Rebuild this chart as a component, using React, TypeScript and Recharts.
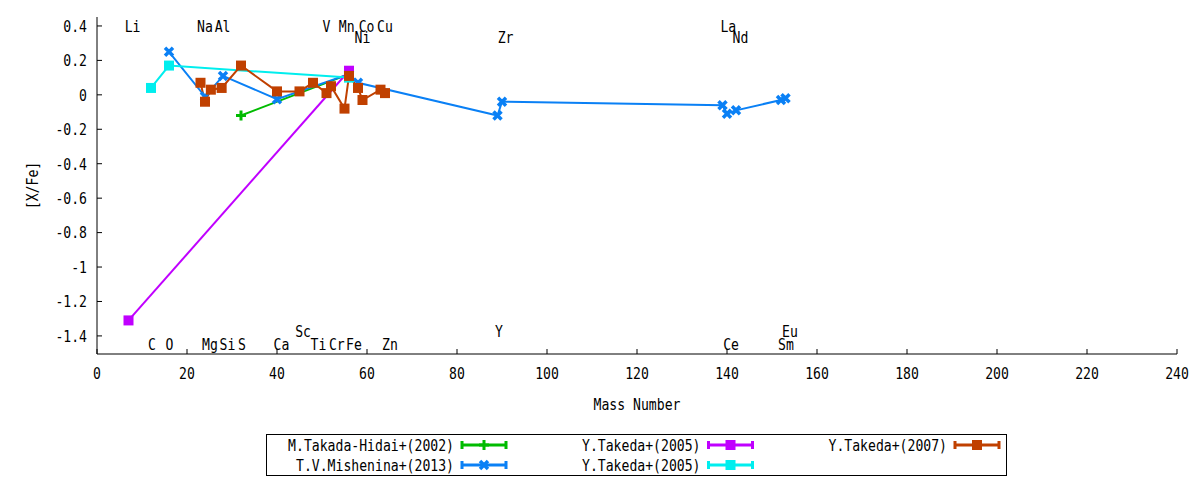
import React from "react";
import { ComposedChart, Legend, Line, Scatter, XAxis, YAxis } from "recharts";

const FONT = "DejaVu Sans Mono";
const CHAR_W = 7.9;

// x: mass number, y: [X/Fe]
const takadaHidai2002 = [
  { x: 32, y: -0.12 },
  { x: 56, y: 0.12 },
];

const mishenina2013 = [
  { x: 16, y: 0.25 },
  { x: 24, y: -0.01 },
  { x: 28, y: 0.11 },
  { x: 40, y: -0.025 },
  { x: 56, y: 0.12 },
  { x: 58, y: 0.07 },
  { x: 89, y: -0.12 },
  { x: 90, y: -0.04 },
  { x: 139, y: -0.06 },
  { x: 140, y: -0.11 },
  { x: 142, y: -0.09 },
  { x: 152, y: -0.03 },
  { x: 153, y: -0.02 },
];

const takeda2005a = [
  { x: 7, y: -1.31 },
  { x: 56, y: 0.14 },
];

const takeda2005b = [
  { x: 12, y: 0.04 },
  { x: 16, y: 0.17 },
  { x: 56, y: 0.1 },
];

const takeda2007 = [
  { x: 23, y: 0.07 },
  { x: 24, y: -0.04 },
  { x: 25.3, y: 0.03 },
  { x: 27.7, y: 0.04 },
  { x: 32, y: 0.17 },
  { x: 40, y: 0.02 },
  { x: 45, y: 0.02 },
  { x: 48, y: 0.07 },
  { x: 51, y: 0.01 },
  { x: 52, y: 0.05 },
  { x: 55, y: -0.08 },
  { x: 56, y: 0.11 },
  { x: 58, y: 0.04 },
  { x: 59, y: -0.03 },
  { x: 63, y: 0.03 },
  { x: 64, y: 0.01 },
];

// element names placed along the top and bottom of the plot
const elementLabels = [
  { name: "Li", x: 7.9, y: 0.4 },
  { name: "Na", x: 24, y: 0.4 },
  { name: "Al", x: 27.9, y: 0.4 },
  { name: "V", x: 51, y: 0.4 },
  { name: "Mn", x: 55.5, y: 0.4 },
  { name: "Co", x: 59.9, y: 0.4 },
  { name: "Cu", x: 64, y: 0.4 },
  { name: "La", x: 140.3, y: 0.4 },
  { name: "Ni", x: 59, y: 0.335 },
  { name: "Zr", x: 90.8, y: 0.335 },
  { name: "Nd", x: 143, y: 0.335 },
  { name: "Sc", x: 45.8, y: -1.37 },
  { name: "Y", x: 89.3, y: -1.37 },
  { name: "Eu", x: 154, y: -1.37 },
  { name: "C", x: 12.2, y: -1.45 },
  { name: "O", x: 16.1, y: -1.45 },
  { name: "Mg", x: 25.1, y: -1.45 },
  { name: "Si", x: 29, y: -1.45 },
  { name: "S", x: 32.2, y: -1.45 },
  { name: "Ca", x: 41, y: -1.45 },
  { name: "Ti", x: 49.2, y: -1.45 },
  { name: "Cr", x: 53.3, y: -1.45 },
  { name: "Fe", x: 57.1, y: -1.45 },
  { name: "Zn", x: 65.1, y: -1.45 },
  { name: "Ce", x: 140.9, y: -1.45 },
  { name: "Sm", x: 153.1, y: -1.45 },
];

const X_TICKS = [0, 20, 40, 60, 80, 100, 120, 140, 160, 180, 200, 220, 240];
const Y_TICKS = [0.4, 0.2, 0, -0.2, -0.4, -0.6, -0.8, -1, -1.2, -1.4];

type Shape = "plus" | "cross" | "square";

const SERIES: { id: string; name: string; color: string; shape: Shape; data: { x: number; y: number }[] }[] = [
  { id: "th02", name: "M.Takada-Hidai+(2002)", color: "#00bb00", shape: "plus", data: takadaHidai2002 },
  { id: "mi13", name: "T.V.Mishenina+(2013)", color: "#0a80f5", shape: "cross", data: mishenina2013 },
  { id: "ta05a", name: "Y.Takeda+(2005)", color: "#c000ff", shape: "square", data: takeda2005a },
  { id: "ta05b", name: "Y.Takeda+(2005)", color: "#00eeee", shape: "square", data: takeda2005b },
  { id: "ta07", name: "Y.Takeda+(2007)", color: "#c04000", shape: "square", data: takeda2007 },
];

function MonoText({
  x,
  y,
  text,
  anchor = "middle",
  rotate = false,
}: {
  x: number;
  y: number;
  text: string;
  anchor?: "start" | "middle" | "end";
  rotate?: boolean;
}) {
  return (
    <text
      x={x}
      y={y}
      dy={5.8}
      fontFamily={FONT}
      fontSize={16}
      fill="#000"
      textAnchor={anchor}
      textLength={text.length * CHAR_W}
      lengthAdjust="spacingAndGlyphs"
      transform={rotate ? `rotate(-90 ${x} ${y})` : undefined}
    >
      {text}
    </text>
  );
}

function Marker({ cx, cy, shape, color }: { cx?: number; cy?: number; shape: Shape; color: string }) {
  if (cx == null || cy == null) return null;
  if (shape === "plus") {
    return <path d={`M${cx - 5},${cy}H${cx + 5}M${cx},${cy - 5}V${cy + 5}`} stroke={color} strokeWidth={3} fill="none" />;
  }
  if (shape === "cross") {
    return (
      <path
        d={`M${cx - 4},${cy - 4}L${cx + 4},${cy + 4}M${cx - 4},${cy + 4}L${cx + 4},${cy - 4}`}
        stroke={color}
        strokeWidth={3.5}
        fill="none"
      />
    );
  }
  return <rect x={cx - 5} y={cy - 5} width={10} height={10} fill={color} />;
}

const fmtY = (v: number) => String(parseFloat(v.toFixed(1)));

function XTick(props: any) {
  return <MonoText x={props.x} y={props.y} text={String(props.payload.value)} />;
}

function YTick(props: any) {
  return <MonoText x={props.x} y={props.y} text={fmtY(props.payload.value)} anchor="end" />;
}

function LegendBox() {
  return (
    <svg width={741} height={42} style={{ display: "block" }}>
      <rect x={0.5} y={0.5} width={740} height={41} fill="#fff" stroke="#000" />
      {SERIES.map((s, i) => {
        const col = Math.floor(i / 2);
        const row = i % 2;
        const right = 188 + col * 246.5;
        const cy = 11 + row * 20;
        const x0 = right + 8;
        const x1 = x0 + 44;
        return (
          <g key={s.id}>
            <MonoText x={right} y={cy} text={s.name} anchor="end" />
            <path
              d={`M${x0},${cy}H${x1}M${x0},${cy - 4}V${cy + 4}M${x1},${cy - 4}V${cy + 4}`}
              stroke={s.color}
              strokeWidth={3}
              fill="none"
            />
            <Marker cx={(x0 + x1) / 2} cy={cy} shape={s.shape} color={s.color} />
          </g>
        );
      })}
    </svg>
  );
}

const Y_DOMAIN: [number, number] = [-1.505, 0.452];

export default function App() {
  return (
    <div style={{ position: "absolute", left: 0, top: 0, width: 1200, height: 480, background: "#fff" }}>
      <ComposedChart width={1200} height={480} margin={{ top: 17, right: 23, bottom: 0, left: 0 }}>
        <XAxis
          dataKey="x"
          type="number"
          domain={[0, 240]}
          ticks={X_TICKS}
          interval={0}
          allowDataOverflow
          height={126}
          stroke="#000"
          tickSize={-5}
          tickMargin={24}
          tick={<XTick />}
          label={{
            content: ({ viewBox }: any) => (
              <MonoText x={viewBox.x + viewBox.width / 2} y={viewBox.y + 50} text="Mass Number" />
            ),
          }}
        />
        <XAxis
          xAxisId="top"
          orientation="top"
          type="number"
          domain={[0, 240]}
          ticks={X_TICKS}
          interval={0}
          allowDataOverflow
          height={0}
          stroke="#000"
          tickSize={-5}
          tick={false}
        />
        <YAxis
          type="number"
          domain={Y_DOMAIN}
          ticks={Y_TICKS}
          interval={0}
          allowDataOverflow
          width={97}
          stroke="#000"
          tickSize={-5}
          tickMargin={15}
          tick={<YTick />}
          label={{
            content: ({ viewBox }: any) => (
              <MonoText x={viewBox.x + 32} y={viewBox.y + viewBox.height / 2} text="[X/Fe]" rotate />
            ),
          }}
        />
        <YAxis
          yAxisId="right"
          orientation="right"
          type="number"
          domain={Y_DOMAIN}
          ticks={Y_TICKS}
          interval={0}
          allowDataOverflow
          width={0}
          stroke="#000"
          tickSize={-5}
          tick={false}
        />
        <Scatter
          data={elementLabels}
          dataKey="y"
          isAnimationActive={false}
          legendType="none"
          shape={(p: any) => <MonoText x={p.cx} y={p.cy} text={p.payload.name} />}
        />
        {SERIES.map((s) => (
          <Line
            key={s.id}
            name={s.name}
            data={s.data}
            dataKey="y"
            type="linear"
            stroke={s.color}
            strokeWidth={2}
            isAnimationActive={false}
            activeDot={false}
            dot={(p: any) => <Marker key={`${s.id}-${p.index}`} cx={p.cx} cy={p.cy} shape={s.shape} color={s.color} />}
          />
        ))}
        <Legend
          layout="vertical"
          align="center"
          verticalAlign="middle"
          wrapperStyle={{ left: 266, top: 434, width: 741, height: 42 }}
          content={() => <LegendBox />}
        />
      </ComposedChart>
    </div>
  );
}
